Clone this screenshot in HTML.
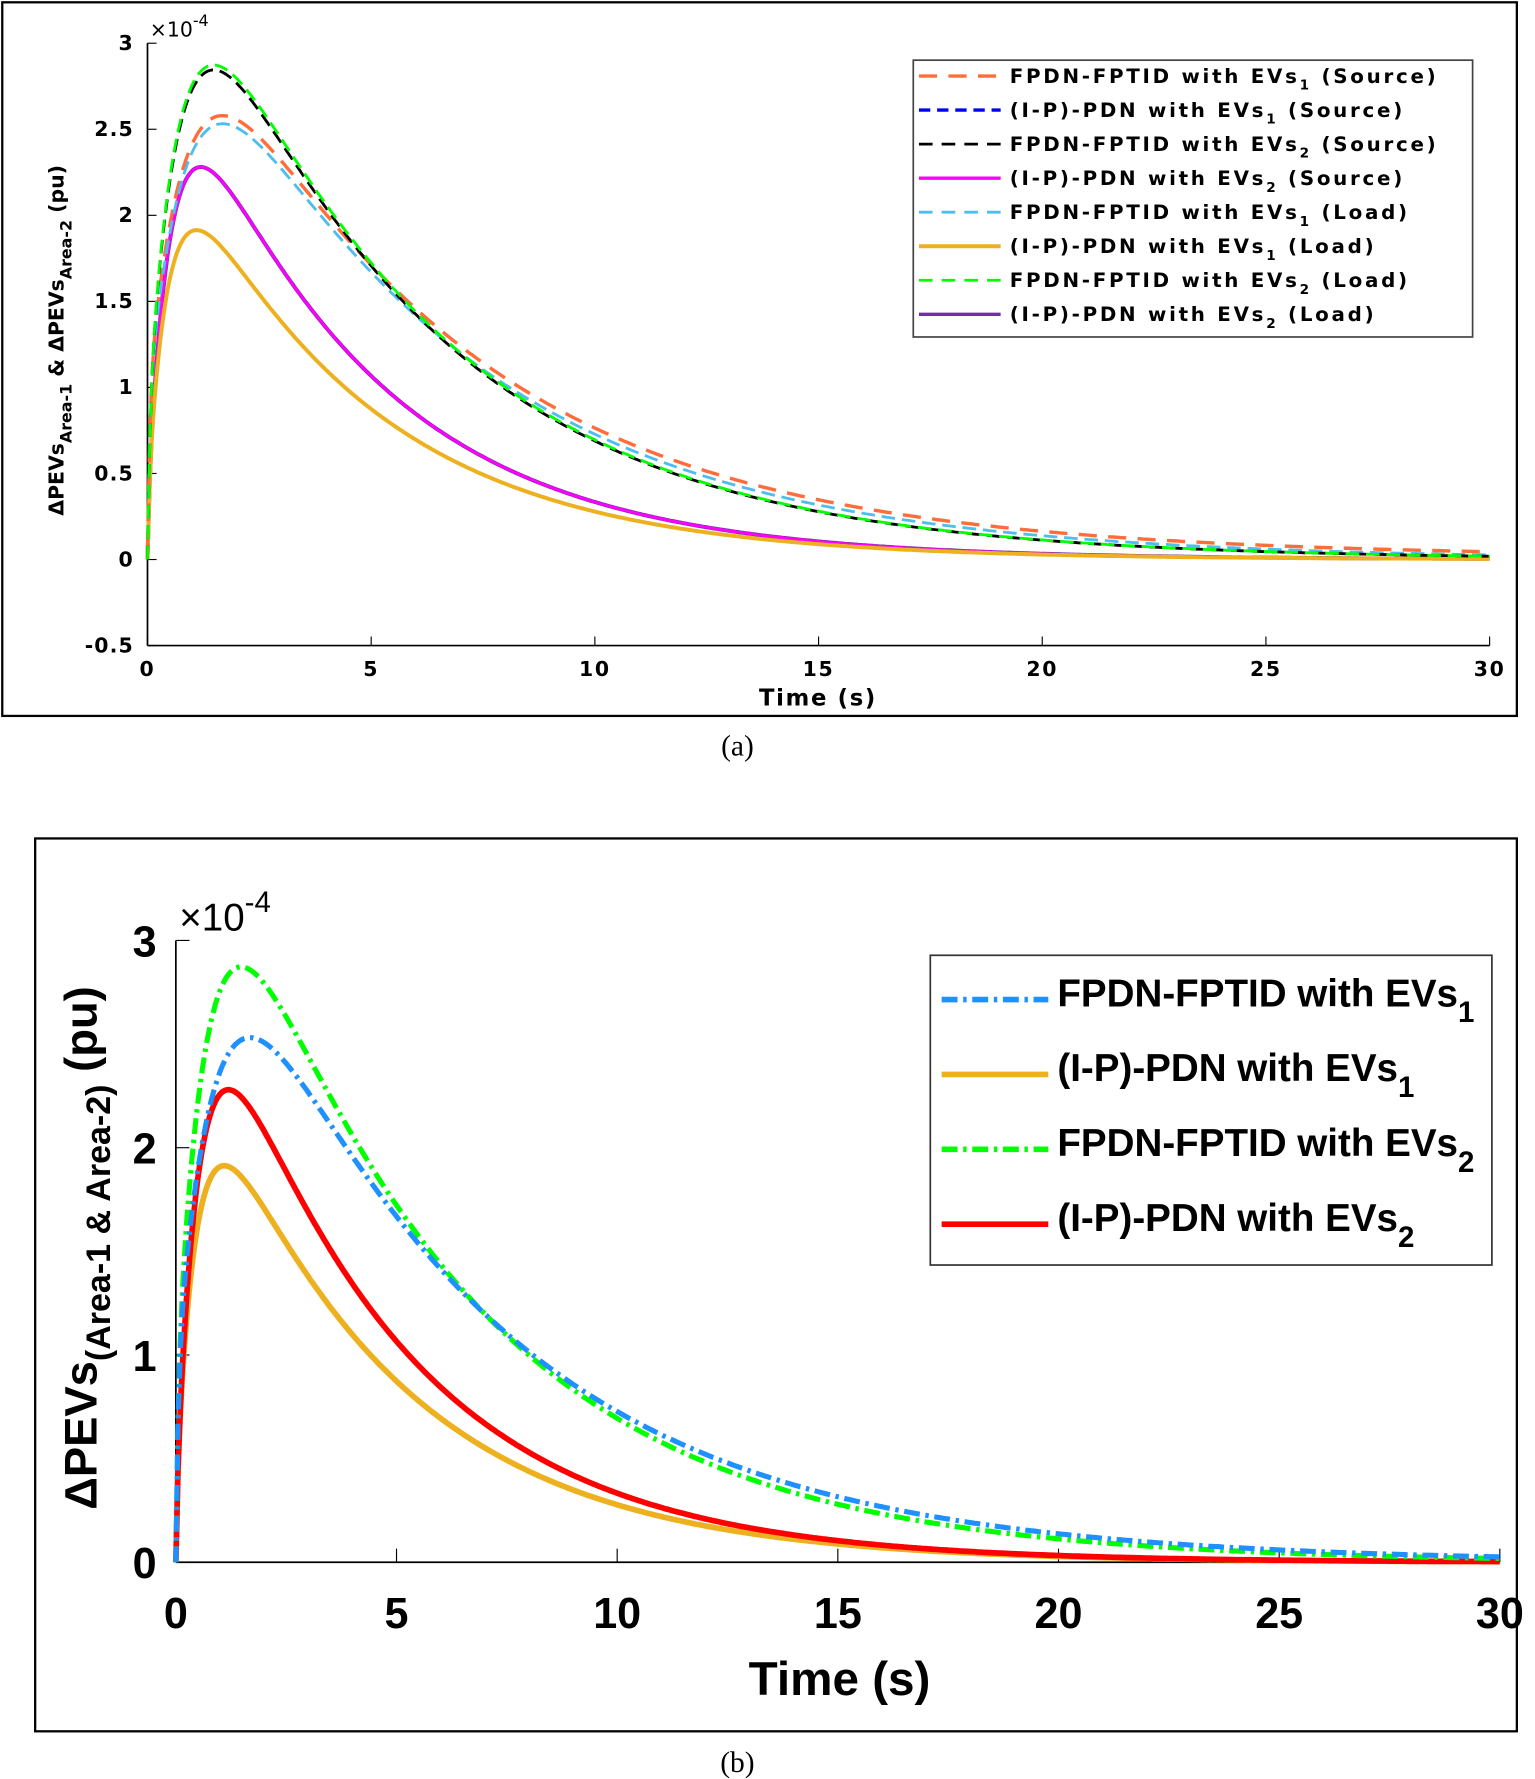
<!DOCTYPE html>
<html><head><meta charset="utf-8"><style>
html,body{margin:0;padding:0;background:#fff;}
svg{display:block;}
text{font-family:"Liberation Sans",Arial,sans-serif;font-weight:bold;}
#a text{font-family:"DejaVu Sans",sans-serif;}
</style></head><body>
<svg id="s" width="1535" height="1779" viewBox="0 0 1353 1568" xmlns="http://www.w3.org/2000/svg">
<rect x="2" y="2" width="1335" height="629" fill="none" stroke="#000" stroke-width="2"/>
<rect x="31" y="739" width="1306" height="787" fill="none" stroke="#000" stroke-width="2"/>
<g id="a"></g><g id="b"></g>
<text x="650" y="666" style="font-family:'Liberation Serif';font-weight:normal" font-size="26" text-anchor="middle">(a)</text>
<text x="650" y="1562" style="font-family:'Liberation Serif';font-weight:normal" font-size="26" text-anchor="middle">(b)</text>
</svg>
<script>
const NS="http://www.w3.org/2000/svg";
function el(p,t,a,txt){const e=document.createElementNS(NS,t);for(const k in a)e.setAttribute(k,a[k]);if(txt!==undefined)e.innerHTML=txt;p.appendChild(e);return e;}
const C={
 f1:t=>3.85*(Math.exp(-t/6)-Math.exp(-t/0.75))+0.9*(1-Math.exp(-t/0.06))*Math.exp(-t/0.5),
 i1:t=>2.75*(Math.exp(-t/4.36)-Math.exp(-t/0.45))+0.35*(1-Math.exp(-t/0.05))*Math.exp(-t/0.35),
 f2:t=>4.28*(Math.exp(-t/5.5)-Math.exp(-t/0.65))+0.8*(1-Math.exp(-t/0.06))*Math.exp(-t/0.5),
 i2:t=>3.41*(Math.exp(-t/4.3)-Math.exp(-t/0.5))+0.3*(1-Math.exp(-t/0.05))*Math.exp(-t/0.35)
};
function path(g,f,x0,x1,y0,ys,st){let d="";for(let i=0;i<=600;i++){const t=30*i/600;const x=x0+(x1-x0)*t/30,y=y0-f(t)*ys;d+=(i?"L":"M")+x.toFixed(1)+","+y.toFixed(1);}
 el(g,"path",Object.assign({d:d,fill:"none"},st));}
(function(){const g=document.getElementById("a");const x0=130,x1=1313,y0=493,ys=151.7;
 el(g,"line",{x1:x0,y1:38,x2:x0,y2:569,stroke:"#000","stroke-width":1.5});
 el(g,"line",{x1:x0,y1:569,x2:x1,y2:569,stroke:"#000","stroke-width":1.5});
 for(let i=0;i<=6;i++){const x=x0+(x1-x0)*i/6;el(g,"line",{x1:x,y1:569,x2:x,y2:561,stroke:"#000"});el(g,"text",{x:x,y:596,"font-size":18,"text-anchor":"middle","letter-spacing":1.5},String(i*5));}
 const yl=["-0.5","0","0.5","1","1.5","2","2.5","3"];
 for(let i=0;i<8;i++){const y=569-i*ys/2;el(g,"line",{x1:x0,y1:y,x2:x0+8,y2:y,stroke:"#000"});el(g,"text",{x:118,y:y+6,"font-size":18,"text-anchor":"end","letter-spacing":1},yl[i]);}
 el(g,"text",{x:132,y:32,"font-size":18,style:"font-weight:normal"},"×10<tspan dy='-9' font-size='14'>-4</tspan>");
 el(g,"text",{x:721,y:622,"font-size":20,"text-anchor":"middle","letter-spacing":1.5},"Time (s)");
 el(g,"text",{transform:"translate(56,300) rotate(-90)","font-size":18,"text-anchor":"middle"},"ΔPEVs<tspan dy='7' font-size='14'>Area-1</tspan><tspan dy='-7'> &amp; ΔPEVs</tspan><tspan dy='7' font-size='14'>Area-2</tspan><tspan dy='-7'> (pu)</tspan>");
 path(g,C.i2,x0,x1,y0,ys,{stroke:"#7030a0","stroke-width":3.5});
 path(g,C.i2,x0,x1,y0,ys,{stroke:"#ff00ff","stroke-width":2.5});
 path(g,C.i1,x0,x1,y0,ys,{stroke:"#0000ff","stroke-width":2.5,"stroke-dasharray":"10 6"});
 path(g,C.i1,x0,x1,y0,ys,{stroke:"#edb120","stroke-width":3.5});
 path(g,t=>C.f1(t)+0.05*Math.exp(-t/30),x0,x1,y0,ys,{stroke:"#ff6d3a","stroke-width":3,"stroke-dasharray":"16 10"});
 path(g,C.f1,x0,x1,y0,ys,{stroke:"#4dbeee","stroke-width":2.5,"stroke-dasharray":"12 6"});
 path(g,t=>C.f2(t)*0.99,x0,x1,y0,ys,{stroke:"#000","stroke-width":2.5,"stroke-dasharray":"12 6"});
 path(g,C.f2,x0,x1,y0,ys,{stroke:"#00ff00","stroke-width":2.5,"stroke-dasharray":"12 6"});
 el(g,"rect",{x:805,y:53,width:493,height:244,fill:"#fff",stroke:"#444","stroke-width":1.5});
 const L=[["#ff6d3a","16 10",3,"FPDN-FPTID with EVs","1","(Source)"],["#0000ff","10 6",3,"(I-P)-PDN with EVs","1","(Source)"],["#000","12 8",2.5,"FPDN-FPTID with EVs","2","(Source)"],["#ff00ff","",3,"(I-P)-PDN with EVs","2","(Source)"],["#4dbeee","12 8",2.5,"FPDN-FPTID with EVs","1","(Load)"],["#edb120","",3.5,"(I-P)-PDN with EVs","1","(Load)"],["#00ff00","12 8",2.5,"FPDN-FPTID with EVs","2","(Load)"],["#7030a0","",3,"(I-P)-PDN with EVs","2","(Load)"]];
 L.forEach((l,i)=>{const y=67+30*i;el(g,"line",{x1:810,y1:y,x2:882,y2:y,stroke:l[0],"stroke-width":l[2],"stroke-dasharray":l[1]});
  el(g,"text",{x:890,y:y+6,"font-size":17.5,"letter-spacing":2.4},l[3]+"<tspan dy='6' font-size='12'>"+l[4]+"</tspan><tspan dy='-6'> "+l[5]+"</tspan>");});
})();
(function(){const g=document.getElementById("b");const x0=155,x1=1322,y0=1377,ys=182.7;
 el(g,"line",{x1:x0,y1:829,x2:x0,y2:y0,stroke:"#000","stroke-width":1.5});
 el(g,"line",{x1:x0,y1:y0,x2:x1,y2:y0,stroke:"#000","stroke-width":1.5});
 for(let i=0;i<=6;i++){const x=x0+(x1-x0)*i/6;el(g,"line",{x1:x,y1:y0,x2:x,y2:y0-12,stroke:"#000"});el(g,"text",{x:x,y:1435,"font-size":38,"text-anchor":"middle"},String(i*5));}
 for(let i=0;i<=3;i++){const y=y0-i*ys;el(g,"line",{x1:x0,y1:y,x2:x0+12,y2:y,stroke:"#000"});el(g,"text",{x:138,y:y+14,"font-size":38,"text-anchor":"end"},String(i));}
 el(g,"text",{x:158,y:820,"font-size":34,style:"font-weight:normal"},"×10<tspan dy='-16' font-size='26'>-4</tspan>");
 el(g,"text",{x:740,y:1494,"font-size":42,"text-anchor":"middle"},"Time (s)");
 el(g,"text",{transform:"translate(85,1100) rotate(-90)","font-size":40,"text-anchor":"middle"},"ΔPEVs<tspan dy='12' font-size='30'>(Area-1 &amp; Area-2)</tspan><tspan dy='-12'> (pu)</tspan>");
 path(g,C.i1,x0,x1,y0,ys,{stroke:"#edb120","stroke-width":5});
 path(g,C.i2,x0,x1,y0,ys,{stroke:"#ff0000","stroke-width":5});
 path(g,C.f2,x0,x1,y0,ys,{stroke:"#00ff00","stroke-width":4.5,"stroke-dasharray":"14 5 3 5"});
 path(g,C.f1,x0,x1,y0,ys,{stroke:"#1e90ff","stroke-width":4.5,"stroke-dasharray":"14 5 3 5"});
 el(g,"rect",{x:820,y:842,width:495,height:273,fill:"#fff",stroke:"#333","stroke-width":1.5});
 const L=[["#1e90ff","14 5 3 5","FPDN-FPTID with EVs","1"],["#edb120","","(I-P)-PDN with EVs","1"],["#00ff00","14 5 3 5","FPDN-FPTID with EVs","2"],["#ff0000","","(I-P)-PDN with EVs","2"]];
 L.forEach((l,i)=>{const y=881+66*i;el(g,"line",{x1:830,y1:y,x2:924,y2:y,stroke:l[0],"stroke-width":5,"stroke-dasharray":l[1]});
  el(g,"text",{x:932,y:y+6,"font-size":34},l[2]+"<tspan dy='14' font-size='26'>"+l[3]+"</tspan>");});
})();
</script>
</body></html>
